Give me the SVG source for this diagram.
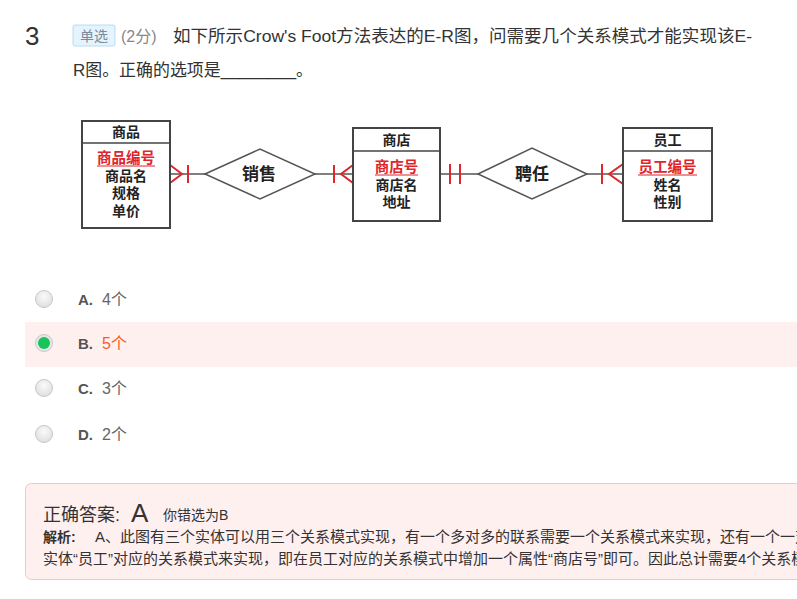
<svg xmlns="http://www.w3.org/2000/svg" width="797" height="599" viewBox="0 0 797 599">
<defs>
<style>
text{font-family:"Liberation Sans","Noto Sans CJK SC",sans-serif;}
.ent{fill:#fff;stroke:#444;stroke-width:2;}
.div{stroke:#444;stroke-width:1.5;}
.hd{font-size:14px;font-weight:bold;fill:#222;text-anchor:middle;dominant-baseline:central;}
.at{font-size:14px;font-weight:bold;fill:#222;text-anchor:middle;dominant-baseline:central;}
.pk{font-size:14.5px;font-weight:bold;fill:#e0252b;text-anchor:middle;dominant-baseline:central;}
.ul{stroke:#e0252b;stroke-width:1.2;}
.rel{fill:#fff;stroke:#555;stroke-width:1.5;}
.rt{font-size:17px;font-weight:bold;fill:#222;text-anchor:middle;dominant-baseline:central;}
.ln{stroke:#555;stroke-width:1.5;fill:none;}
.cf{stroke:#e0252b;stroke-width:2;fill:none;}
.radio{fill:url(#rg);stroke:#c8c8c8;stroke-width:1;}
.ol{font-size:15px;font-weight:bold;fill:#555;}
.ov{font-size:16px;fill:#666;}
.an{font-size:15px;fill:#333;}
</style>
<radialGradient id="rg" cx="0.5" cy="0.35" r="0.7">
<stop offset="0" stop-color="#fafafa"/>
<stop offset="1" stop-color="#dcdcdc"/>
</radialGradient>
</defs>
<rect width="797" height="599" fill="#fff"/>

<g id="question">
<text x="25" y="45" font-size="26" fill="#333">3</text>
<rect x="73" y="25" width="42" height="21" rx="2" fill="#e5f3fc" stroke="#b8dcf2"/>
<text x="94" y="36" font-size="14" fill="#7a8a9a" text-anchor="middle" dominant-baseline="central">单选</text>
<text x="121" y="42" font-size="16" fill="#888">(2分)</text>
<text x="173" y="42" font-size="17" fill="#333" textLength="579" lengthAdjust="spacingAndGlyphs">如下所示Crow's Foot方法表达的E-R图，问需要几个关系模式才能实现该E-</text>
<text x="73" y="76" font-size="17" fill="#333" textLength="240" lengthAdjust="spacingAndGlyphs">R图。正确的选项是________。</text>
</g>

<g id="connectors">
<line class="ln" x1="170" y1="174" x2="205" y2="174"/>
<line class="ln" x1="315" y1="174" x2="353" y2="174"/>
<line class="ln" x1="440" y1="174" x2="478" y2="174"/>
<line class="ln" x1="587" y1="174" x2="623" y2="174"/>
<path class="cf" d="M170 165 L182 174 L170 183 M188 165 V183"/>
<path class="cf" d="M353 165 L341 174 L353 183 M334 165 V183"/>
<path class="cf" d="M450 164 V184 M460 164 V184"/>
<path class="cf" d="M623 164 L609 174 L623 184 M602 164 V184"/>
</g>

<g id="entity-shangpin">
<rect class="ent" x="82" y="121" width="88" height="107"/>
<line class="div" x1="82" y1="143" x2="170" y2="143"/>
<text class="hd" x="126" y="132">商品</text>
<text class="pk" x="126" y="158">商品编号</text>
<line class="ul" x1="97" y1="166" x2="155" y2="166"/>
<text class="at" x="126" y="176">商品名</text>
<text class="at" x="126" y="193">规格</text>
<text class="at" x="126" y="211">单价</text>
</g>

<g id="rel-xiaoshou">
<polygon class="rel" points="205,174 260,149 315,174 260,199"/>
<text class="rt" x="259" y="174">销售</text>
</g>

<g id="entity-shangdian">
<rect class="ent" x="353" y="128" width="87" height="93"/>
<line class="div" x1="353" y1="151" x2="440" y2="151"/>
<text class="hd" x="396.5" y="140">商店</text>
<text class="pk" x="396.5" y="167">商店号</text>
<line class="ul" x1="375" y1="175" x2="418" y2="175"/>
<text class="at" x="396.5" y="185">商店名</text>
<text class="at" x="396.5" y="202">地址</text>
</g>

<g id="rel-pinren">
<polygon class="rel" points="478,174 532,148 587,174 532,199"/>
<text class="rt" x="532" y="174">聘任</text>
</g>

<g id="entity-yuangong">
<rect class="ent" x="623" y="128" width="89" height="93"/>
<line class="div" x1="623" y1="151" x2="712" y2="151"/>
<text class="hd" x="667.5" y="140">员工</text>
<text class="pk" x="667.5" y="167">员工编号</text>
<line class="ul" x1="638" y1="175" x2="697" y2="175"/>
<text class="at" x="667.5" y="185">姓名</text>
<text class="at" x="667.5" y="202">性别</text>
</g>

<g id="options">
<rect x="25" y="322" width="772" height="45" fill="#fff0f0"/>
<circle class="radio" cx="44" cy="299" r="8.5"/>
<text class="ol" x="78" y="305">A.</text>
<text class="ov" x="102" y="305">4个</text>
<circle cx="44" cy="343" r="8.5" fill="#e6e6e6" stroke="#c8c8c8"/>
<circle cx="44" cy="343" r="6" fill="#18c45a"/>
<text class="ol" x="78" y="349">B.</text>
<text class="ov" x="102" y="349" style="fill:#ff5a26">5个</text>
<circle class="radio" cx="44" cy="388" r="8.5"/>
<text class="ol" x="78" y="394">C.</text>
<text class="ov" x="102" y="394">3个</text>
<circle class="radio" cx="44" cy="434" r="8.5"/>
<text class="ol" x="78" y="440">D.</text>
<text class="ov" x="102" y="440">2个</text>
</g>

<g id="answer">
<rect x="25.5" y="483.5" width="790" height="96" rx="6" fill="#fff0f0" stroke="#f5c4c4"/>
<text x="43" y="521" font-size="18" fill="#333">正确答案:</text>
<text x="131" y="522" font-size="26" fill="#333">A</text>
<text x="163" y="520" font-size="14" fill="#333">你错选为B</text>
<text x="43" y="542" font-size="14" font-weight="bold" fill="#333">解析:</text>
<text class="an" x="95" y="542">A、此图有三个实体可以用三个关系模式实现，有一个多对多的联系需要一个关系模式来实现，还有一个一对</text>
<text class="an" x="43" y="564">实体“员工”对应的关系模式来实现，即在员工对应的关系模式中增加一个属性“商店号”即可。因此总计需要4个关系模</text>
</g>
</svg>
